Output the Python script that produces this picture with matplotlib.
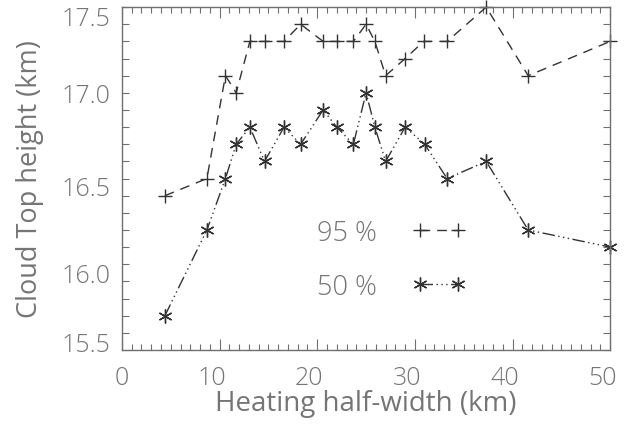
import matplotlib
matplotlib.use("Agg")
import matplotlib.pyplot as plt
import matplotlib.transforms as mtransforms
from matplotlib.ticker import MultipleLocator, FormatStrFormatter

# Data
x95 = [4.4, 8.7, 10.6, 11.7, 13.1, 14.6, 16.6, 18.3, 20.6, 22.0, 23.7, 25.0,
       25.9, 27.0, 29.0, 30.9, 33.3, 37.3, 41.6, 50.0]
y95 = [16.4, 16.5, 17.1, 17.0, 17.3, 17.3, 17.3, 17.4, 17.3, 17.3, 17.3, 17.4,
       17.3, 17.1, 17.2, 17.3, 17.3, 17.5, 17.1, 17.3]
x50 = [4.4, 8.7, 10.6, 11.7, 13.1, 14.6, 16.6, 18.3, 20.6, 22.0, 23.7, 25.0,
       25.9, 27.0, 29.0, 31.0, 33.3, 37.3, 41.6, 50.0]
y50 = [15.7, 16.2, 16.5, 16.7, 16.8, 16.6, 16.8, 16.7, 16.9, 16.8, 16.7, 17.0,
       16.8, 16.6, 16.8, 16.7, 16.5, 16.6, 16.2, 16.1]
labels = ["95 %", "50 %"]
xlabel = "Heating half-width (km)"
ylabel = "Cloud Top height (km)"

plt.rcParams['font.family'] = ['Open Sans', 'DejaVu Sans']
plt.rcParams['font.weight'] = 'light'
txtcol = '#757575'
linecol = '#333333'
framecol = '#707070'

fig = plt.figure(figsize=(6.35, 4.27), dpi=100)
ax = fig.add_axes([0.192, 0.178, 0.769, 0.803])

l1, = ax.plot(x95, y95, color=linecol, lw=1.0, marker='+', ms=10, mew=1.0,
              dashes=(7, 5), label=labels[0], clip_on=False)
l2, = ax.plot(x50, y50, color=linecol, lw=1.0, marker=(6, 2, 0), ms=10, mew=1.0,
              dashes=(9, 2.5, 1, 2.5, 1, 2.5, 1, 2.5), label=labels[1], clip_on=False)

ax.set_xlim(0, 50)
ax.set_ylim(15.5, 17.5)
ax.xaxis.set_major_locator(MultipleLocator(10))
ax.xaxis.set_minor_locator(MultipleLocator(1))
ax.yaxis.set_major_locator(MultipleLocator(0.5))
ax.yaxis.set_minor_locator(MultipleLocator(0.1))
ax.yaxis.set_major_formatter(FormatStrFormatter('%.1f'))

ax.tick_params(which='both', direction='in', top=True, right=True,
               color=framecol, labelcolor=txtcol, labelsize=18)
ax.tick_params(which='major', length=8, width=0.8, pad=11)
ax.tick_params(which='minor', length=4, width=0.8)
ax.tick_params(axis='y', which='major', length=5, pad=8)
ax.tick_params(axis='y', which='minor', length=5)
for s in ax.spines.values():
    s.set_color(framecol)
    s.set_linewidth(1.0)

# small label offsets (pixels, up positive) mimicking the original label placement
fig.canvas.draw()
yoff = {17.5: -8, 17.0: 0, 16.5: -7, 16.0: -8, 15.5: 8}
for tick in ax.yaxis.get_major_ticks():
    loc = round(float(tick.get_loc()), 1)
    dy = yoff.get(loc, 0)
    lab = tick.label1
    lab.set_transform(lab.get_transform() +
                      mtransforms.ScaledTranslation(0, dy / 100.0, fig.dpi_scale_trans))
for tick in ax.xaxis.get_major_ticks():
    lab = tick.label1
    if float(tick.get_loc()) >= 10:
        lab.set_transform(lab.get_transform() +
                          mtransforms.ScaledTranslation(-8 / 100.0, 0, fig.dpi_scale_trans))

ax.set_xlabel(xlabel, fontsize=20, color=txtcol, labelpad=-1)
ax.set_ylabel(ylabel, fontsize=19.5, color=txtcol, labelpad=13)

leg = ax.legend(handles=[l1, l2], loc='center left', bbox_to_anchor=(0.40, 0.263),
                frameon=False, markerfirst=False, numpoints=2, handlelength=2.0,
                handletextpad=1.3, labelspacing=0.95, fontsize=19.5,
                borderpad=0, borderaxespad=0)
for t in leg.get_texts():
    t.set_color(txtcol)

fig.savefig("out.png", dpi=100, facecolor='white')
